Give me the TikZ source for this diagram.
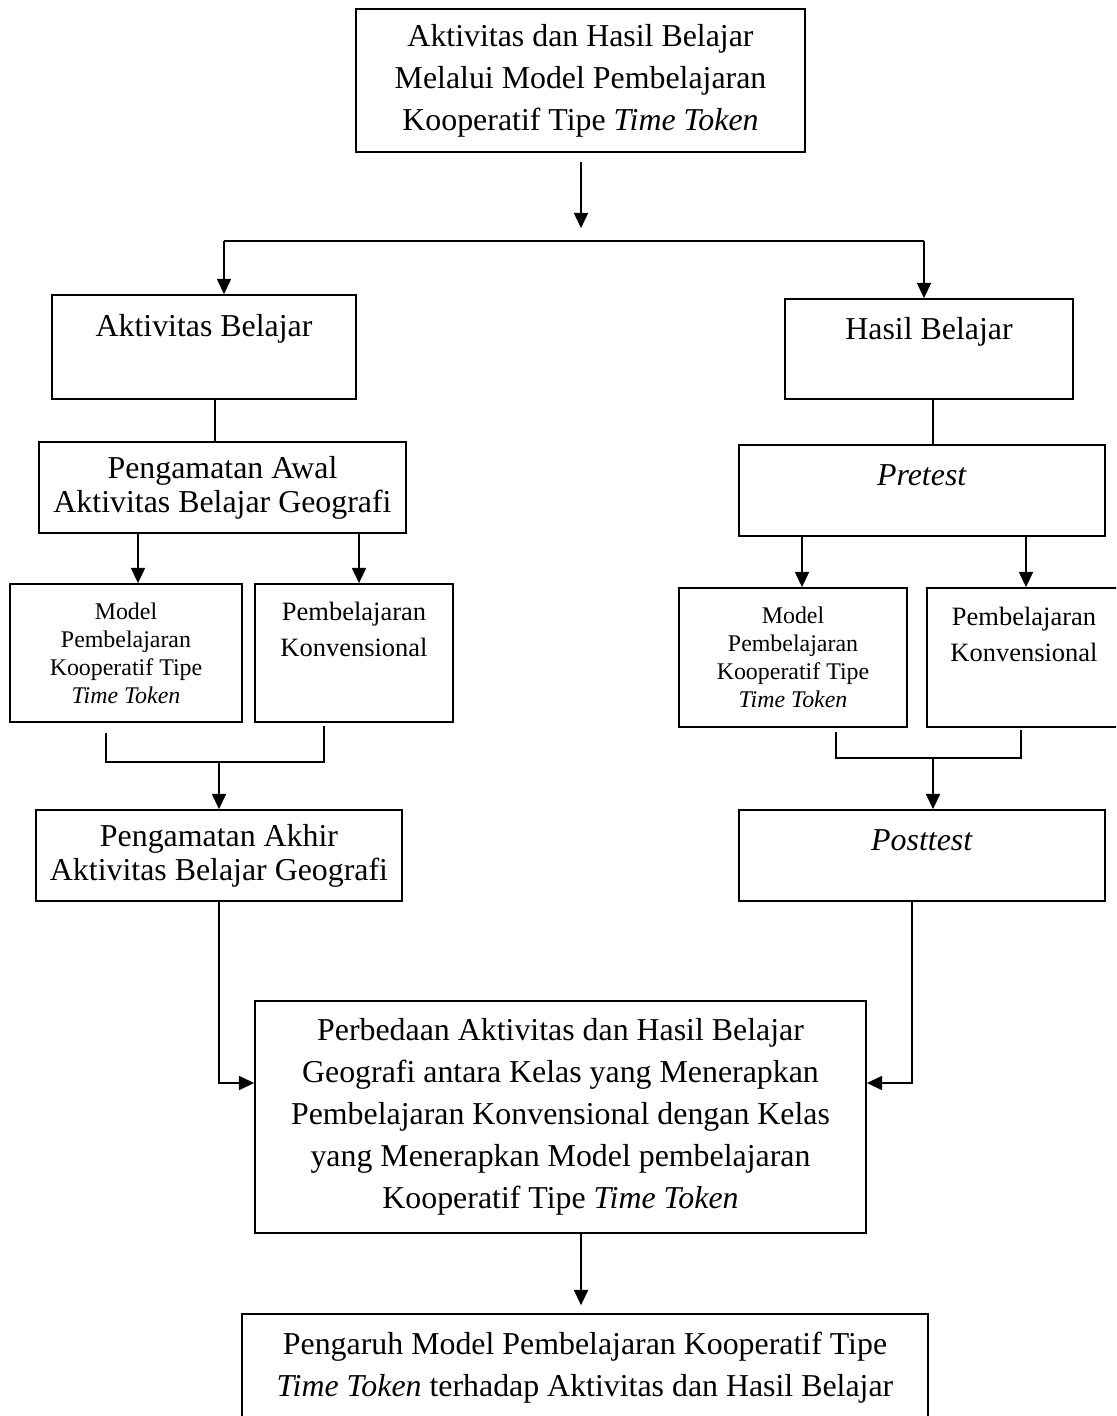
\documentclass[tikz,border=0pt]{standalone}
\usepackage{fontspec}
\setmainfont{Liberation Serif}
\usetikzlibrary{arrows.meta,positioning,calc}
\tikzset{
	box/.style={draw, line width=0.75pt, align=center, inner xsep=0pt, font=\fontsize{13.6}{17.9}\selectfont},
	topbox/.style={box, inner ysep=0pt},
	tighttext/.style={font=\fontsize{13.6}{14.6}\selectfont},
	modeltext/.style={font=\fontsize{10.2}{12}\selectfont},
	konvtext/.style={font=\fontsize{11.3}{15}\selectfont},
	edge/.style={color=black, line width=0.75pt},
	thinedge/.style={color=black, line width=0.5pt},
	diredge/.style={-{Triangle[width=6pt,length=6.5pt]}, color=black, line width=0.75pt}
}
\begin{document}
\begin{tikzpicture}[x=0.015cm, y=-0.015cm]
		\useasboundingbox (0,0) rectangle (1116,1416);
		\clip (0,0) rectangle (1116,1416);
		
		%%%% judul
		\node[box, minimum width=6.735cm, minimum height=2.145cm] (judul) at (580.5,80.5) {Aktivitas dan Hasil Belajar\\Melalui Model Pembelajaran\\Kooperatif Tipe \textit{Time Token}};
		
		%%%% aktivitas
		\node[topbox, minimum width=4.56cm, text height=0.63cm, text depth=0.93cm] (aktivitas) at (204,347) {Aktivitas Belajar};
		\node[box, tighttext, minimum width=5.505cm, minimum height=1.365cm] (awal) at (222.5,487.5) {Pengamatan Awal\\Aktivitas Belajar Geografi};
		\node[box, modeltext, minimum width=3.48cm, minimum height=2.07cm] (modelL) at (126,653) {Model\\Pembelajaran\\Kooperatif Tipe\\\textit{Time Token}};
		\node[topbox, konvtext, minimum width=2.97cm, text height=1.08cm, text depth=0.99cm] (konvL) at (354,653) {Pembelajaran\\Konvensional};
		\node[box, tighttext, minimum width=5.49cm, minimum height=1.365cm] (akhir) at (219,855.5) {Pengamatan Akhir\\Aktivitas Belajar Geografi};
		
		%%%% hasil
		\node[topbox, minimum width=4.32cm, text height=0.615cm, text depth=0.885cm] (hasil) at (929,349) {Hasil Belajar};
		\node[topbox, minimum width=5.49cm, text height=0.6cm, text depth=0.765cm] (pretest) at (922,490.5) {\textit{Pretest}};
		\node[box, modeltext, minimum width=3.42cm, minimum height=2.085cm] (modelR) at (793,657.5) {Model\\Pembelajaran\\Kooperatif Tipe\\\textit{Time Token}};
		\node[topbox, konvtext, minimum width=2.91cm, text height=1.095cm, text depth=0.99cm] (konvR) at (1024,657.5) {Pembelajaran\\Konvensional};
		\node[topbox, minimum width=5.49cm, text height=0.6cm, text depth=0.765cm] (posttest) at (922,855.5) {\textit{Posttest}};
		
		%%%% perbedaan, pengaruh
		\node[box, minimum width=9.165cm, minimum height=3.48cm] (perbedaan) at (560.5,1117) {Perbedaan Aktivitas dan Hasil Belajar\\Geografi antara Kelas yang Menerapkan\\Pembelajaran Konvensional dengan Kelas\\yang Menerapkan Model pembelajaran\\Kooperatif Tipe \textit{Time Token}};
		\node[box, minimum width=10.29cm, minimum height=1.62cm] (pengaruh) at (585,1368) {Pengaruh Model Pembelajaran Kooperatif Tipe\\\textit{Time Token} terhadap Aktivitas dan Hasil Belajar};
		
		%%%% cabang
		\coordinate (cabang) at (581,241);
		\coordinate (cabangL) at (224,241);
		\coordinate (cabangR) at (924,241);
		\coordinate (gabungL) at (219,762);
		\coordinate (gabungR) at (933,758);
		\coordinate (ujungL1) at (106,733);
		\coordinate (ujungL2) at (324,726);
		\coordinate (ujungR1) at (836,732);
		\coordinate (ujungR2) at (1021,730);
		
		\draw[diredge, shorten <=3.8pt, shorten >=5.5pt] (judul.south -| cabang) -- (cabang);
		\draw[edge] (cabangL) -- (cabangR);
		\draw[diredge] (cabangL) -- (cabangL |- aktivitas.north);
		\draw[diredge] (cabangR) -- (cabangR |- hasil.north);
		
		\draw[thinedge] (215,0 |- aktivitas.south) -- (215,0 |- awal.north);
		\draw[thinedge] (933,0 |- hasil.south) -- (933,0 |- pretest.north);
		
		\draw[diredge] (138,0 |- awal.south) -- (138,0 |- modelL.north);
		\draw[diredge] (359,0 |- awal.south) -- (359,0 |- konvL.north);
		\draw[diredge] (802,0 |- pretest.south) -- (802,0 |- modelR.north);
		\draw[diredge] (1026,0 |- pretest.south) -- (1026,0 |- konvR.north);
		
		\draw[edge] (ujungL1) |- (gabungL) -| (ujungL2);
		\draw[edge] (ujungR1) |- (gabungR) -| (ujungR2);
		\draw[diredge] (gabungL) -- (gabungL |- akhir.north);
		\draw[diredge] (gabungR) -- (gabungR |- posttest.north);
		
		\draw[diredge] (akhir.south) |- (perbedaan.west |- 0,1083);
		\draw[diredge] (912,0 |- posttest.south) |- (perbedaan.east |- 0,1083);
		\draw[diredge, shorten >=3.4pt] (581,0 |- perbedaan.south) -- (581,0 |- pengaruh.north);
\end{tikzpicture}
\end{document}
